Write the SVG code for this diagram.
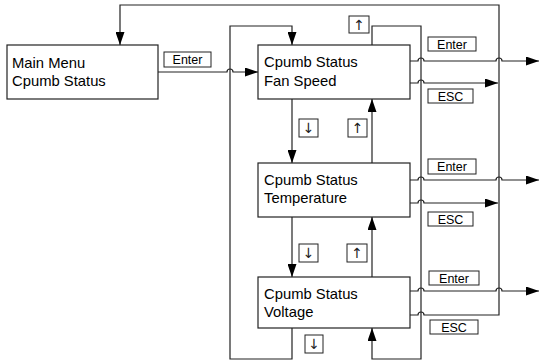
<svg xmlns="http://www.w3.org/2000/svg" width="540" height="361" viewBox="0 0 540 361">
<defs>
<marker id="ah" markerUnits="userSpaceOnUse" markerWidth="13" markerHeight="9" refX="13" refY="4.5" orient="auto">
<path d="M0,0 L13,4.5 L0,9 z" fill="#000"/>
</marker>
<style>
.node{fill:#fff;stroke:#222;stroke-width:1.2}
.nt{font-family:"Liberation Sans",Arial,sans-serif;font-size:14.8px;fill:#000}
.lb{fill:#fff;stroke:#222;stroke-width:1}
.lt{font-family:"Liberation Sans",Arial,sans-serif;font-size:12.5px;fill:#000;text-anchor:middle}
.st{font-family:"DejaVu Sans",sans-serif;font-size:14px;fill:#222;text-anchor:middle}
.cn{fill:none;stroke:#222;stroke-width:1.2}
.ar{marker-end:url(#ah)}
</style>
</defs>
<g id="connectors">
<path class="cn ar" d="M158,72 H227 A3,3 0 0 1 233,72 H258"/>
<path class="cn ar" d="M410,61 H418 A3,3 0 0 1 424,61 H496 A3,3 0 0 1 502,61 H539"/>
<path class="cn ar" d="M410,83 H418 A3,3 0 0 1 424,83 H498"/>
<path class="cn ar" d="M410,180 H418 A3,3 0 0 1 424,180 H496 A3,3 0 0 1 502,180 H539"/>
<path class="cn ar" d="M410,203 H418 A3,3 0 0 1 424,203 H498"/>
<path class="cn ar" d="M410,291 H418 A3,3 0 0 1 424,291 H496 A3,3 0 0 1 502,291 H539"/>
<path class="cn ar" d="M410,315 H418 A3,3 0 0 1 424,315 H499 V5 H120 V45"/>
<path class="cn ar" d="M292,99 V163"/>
<path class="cn ar" d="M292,217 V277"/>
<path class="cn ar" d="M292,328 V359 H230 V26 H292 V45"/>
<path class="cn ar" d="M372,163 V99"/>
<path class="cn ar" d="M372,277 V217"/>
<path class="cn ar" d="M372,45 V26 H421 V359 H372 V328"/>
</g>
<g id="main-menu">
<rect class="node" x="7" y="45" width="151" height="54"/>
<text class="nt" x="12" y="68">Main Menu</text>
<text class="nt" x="12" y="86">Cpumb Status</text>
</g>
<g id="fan-speed">
<rect class="node" x="258" y="45" width="152" height="54"/>
<text class="nt" x="264" y="67">Cpumb Status</text>
<text class="nt" x="264" y="86">Fan Speed</text>
</g>
<g id="temperature">
<rect class="node" x="258" y="163" width="152" height="54"/>
<text class="nt" x="264" y="185">Cpumb Status</text>
<text class="nt" x="264" y="203">Temperature</text>
</g>
<g id="voltage">
<rect class="node" x="258" y="277" width="152" height="51"/>
<text class="nt" x="264" y="299">Cpumb Status</text>
<text class="nt" x="264" y="317">Voltage</text>
</g>
<g id="labels">
<rect class="lb" x="164" y="52" width="47" height="15"/><text class="lt" x="187.5" y="64">Enter</text>
<rect class="lb" x="428" y="37" width="48" height="14"/><text class="lt" x="452" y="48.5">Enter</text>
<rect class="lb" x="428" y="89" width="45" height="14"/><text class="lt" x="450.5" y="100.5">ESC</text>
<rect class="lb" x="428" y="159" width="48" height="15"/><text class="lt" x="452" y="171">Enter</text>
<rect class="lb" x="428" y="212" width="45" height="14"/><text class="lt" x="450.5" y="223.5">ESC</text>
<rect class="lb" x="429" y="271" width="50" height="14"/><text class="lt" x="454" y="282.5">Enter</text>
<rect class="lb" x="430" y="320" width="48" height="14"/><text class="lt" x="454" y="331.5">ESC</text>
<rect class="lb" x="349" y="16" width="20" height="17"/><text class="st" x="359" y="29.5">↑</text>
<rect class="lb" x="299" y="119" width="19" height="18"/><text class="st" x="308.5" y="133">↓</text>
<rect class="lb" x="348" y="119" width="19" height="18"/><text class="st" x="357.5" y="133">↑</text>
<rect class="lb" x="299" y="244" width="19" height="18"/><text class="st" x="308.5" y="258">↓</text>
<rect class="lb" x="347" y="244" width="20" height="18"/><text class="st" x="357" y="258">↑</text>
<rect class="lb" x="305" y="335" width="18" height="18"/><text class="st" x="314" y="349">↓</text>
</g>
</svg>
